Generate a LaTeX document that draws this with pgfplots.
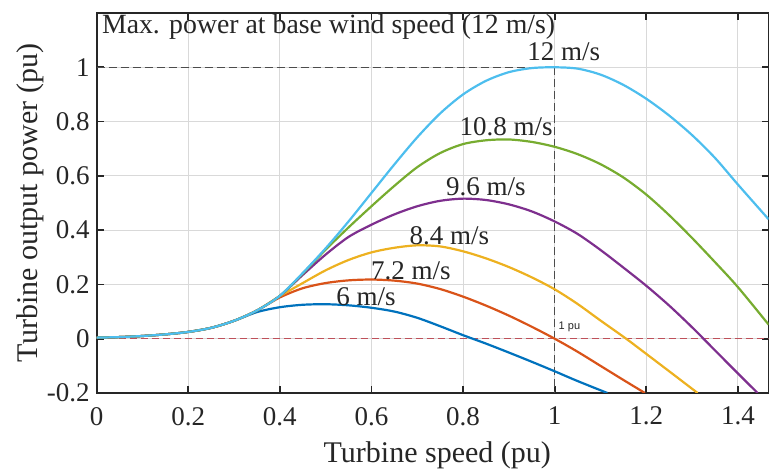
\documentclass[border=0pt]{standalone}
\usepackage{fontspec}
\setmainfont{Liberation Serif}
\setsansfont{Liberation Sans}
\usepackage{pgfplots}
\pgfplotsset{compat=1.18}

\definecolor{c6}{rgb}{0,0.447,0.741}
\definecolor{c72}{rgb}{0.85,0.325,0.098}
\definecolor{c84}{rgb}{0.929,0.694,0.125}
\definecolor{c96}{rgb}{0.494,0.184,0.556}
\definecolor{c108}{rgb}{0.466,0.674,0.188}
\definecolor{c12}{rgb}{0.301,0.745,0.933}
\definecolor{zeroline}{RGB}{190,80,90}
\definecolor{txt}{RGB}{38,38,38}

\begin{document}
\begin{tikzpicture}
% fixed frame: 769x470 px at 0.5pt per px
\path[use as bounding box] (-48.3pt,-38pt) rectangle (336.2pt,196.5pt);
\begin{axis}[
  name=ax,
  at={(0,0)}, anchor=south west,
  scale only axis,
  width=336pt, height=190pt,
  xmin=0, xmax=1.467, ymin=-0.2, ymax=1.2,
  xtick={0,0.2,0.4,0.6,0.8,1,1.2,1.4},
  ytick={-0.2,0,0.2,0.4,0.6,0.8,1},
  grid=major,
  major grid style={black!15, line width=0.5pt},
  axis line style={line width=1pt, txt},
  tick style={txt, line width=0.9pt},
  tick align=inside,
  major tick length=3.5pt,
  /pgf/number format/assume math mode=true,
  xticklabel={\pgfmathprintnumber{\tick}},
  yticklabel={\pgfmathprintnumber{\tick}},
  ticklabel style={font=\rmfamily\fontsize{13.5}{14}\selectfont, text=txt},
  xticklabel style={yshift=-3.5pt},
  every axis x label/.style={at={(axis description cs:0.507,0)}, anchor=center, yshift=-31pt},
  every axis y label/.style={at={(axis description cs:0,0.5)}, xshift=-33pt, anchor=center, rotate=90},
  label style={font=\fontsize{15}{16}\selectfont, text=txt},
  xlabel={Turbine speed (pu)},
  ylabel={Turbine output power (pu)},
  every axis plot/.append style={line width=1.1pt, smooth},
]
% reference lines
\addplot[black!70, line width=0.75pt, dash pattern=on 4pt off 2pt, sharp plot] coordinates {(0,1) (1,1)};
\addplot[black!70, line width=0.75pt, dash pattern=on 4pt off 2pt, sharp plot] coordinates {(1,1) (1,-0.2)};
\addplot[zeroline, line width=0.75pt, dash pattern=on 3.5pt off 2pt, sharp plot] coordinates {(0,0) (1.467,0)};

% 6 m/s
\addplot[c6] coordinates {
  (0,0.004) (0.05,0.006) (0.1,0.01) (0.15,0.016) (0.2,0.025) (0.25,0.04) (0.3,0.066)
  (0.35,0.098) (0.4,0.116) (0.45,0.125) (0.5,0.127) (0.55,0.123) (0.6,0.114)
  (0.65,0.1) (0.7,0.077) (0.75,0.046) (0.8,0.013) (0.85,-0.018) (0.9,-0.051)
  (0.95,-0.085) (1.0,-0.12) (1.05,-0.156) (1.115,-0.2)
};
% 7.2 m/s
\addplot[c72] coordinates {
  (0,0.004) (0.05,0.006) (0.1,0.01) (0.15,0.016) (0.2,0.025) (0.25,0.04) (0.3,0.066)
  (0.35,0.104) (0.4,0.152) (0.45,0.186) (0.5,0.205) (0.55,0.215) (0.6,0.218)
  (0.65,0.214) (0.7,0.203) (0.75,0.183) (0.8,0.155) (0.85,0.122) (0.9,0.085)
  (0.95,0.044) (1.0,0) (1.05,-0.048) (1.1,-0.1) (1.15,-0.152) (1.197,-0.2)
};
% 8.4 m/s
\addplot[c84] coordinates {
  (0,0.004) (0.05,0.006) (0.1,0.01) (0.15,0.016) (0.2,0.025) (0.25,0.04) (0.3,0.066)
  (0.35,0.104) (0.4,0.157) (0.45,0.205) (0.5,0.252) (0.55,0.29) (0.6,0.318)
  (0.65,0.335) (0.7,0.344) (0.75,0.34) (0.8,0.322) (0.85,0.296) (0.9,0.264)
  (0.95,0.226) (1.0,0.182) (1.05,0.128) (1.1,0.067) (1.156,0) (1.2,-0.056)
  (1.25,-0.12) (1.312,-0.2)
};
% 9.6 m/s
\addplot[c96] coordinates {
  (0,0.004) (0.05,0.006) (0.1,0.01) (0.15,0.016) (0.2,0.025) (0.25,0.04) (0.3,0.066)
  (0.35,0.104) (0.4,0.158) (0.45,0.235) (0.5,0.31) (0.55,0.375) (0.6,0.42)
  (0.65,0.458) (0.7,0.488) (0.75,0.508) (0.8,0.516) (0.85,0.511) (0.9,0.495)
  (0.95,0.469) (1.0,0.432) (1.05,0.386) (1.1,0.327) (1.15,0.262) (1.2,0.195)
  (1.25,0.122) (1.3,0.042) (1.35,-0.043) (1.4,-0.128) (1.443,-0.2)
};
% 10.8 m/s
\addplot[c108] coordinates {
  (0,0.004) (0.05,0.006) (0.1,0.01) (0.15,0.016) (0.2,0.025) (0.25,0.04) (0.3,0.066)
  (0.35,0.104) (0.4,0.158) (0.45,0.24) (0.5,0.328) (0.55,0.41) (0.6,0.488)
  (0.65,0.563) (0.7,0.632) (0.75,0.684) (0.8,0.717) (0.85,0.731) (0.9,0.734)
  (0.95,0.725) (1.0,0.707) (1.05,0.68) (1.1,0.643) (1.15,0.594) (1.2,0.531)
  (1.25,0.455) (1.3,0.371) (1.35,0.282) (1.4,0.19) (1.467,0.052)
};
% 12 m/s
\addplot[c12] coordinates {
  (0,0.004) (0.05,0.006) (0.1,0.01) (0.15,0.016) (0.2,0.025) (0.25,0.04) (0.3,0.066)
  (0.35,0.104) (0.4,0.158) (0.45,0.242) (0.5,0.333) (0.55,0.432) (0.6,0.537)
  (0.65,0.642) (0.7,0.742) (0.75,0.83) (0.8,0.9) (0.85,0.95) (0.9,0.982)
  (0.95,0.997) (1.0,1.0) (1.05,0.995) (1.1,0.973) (1.15,0.935) (1.2,0.884)
  (1.25,0.822) (1.3,0.75) (1.35,0.666) (1.4,0.568) (1.467,0.44)
};

\begin{scope}[every node/.style={font=\fontsize{13.5}{14}\selectfont, text=txt, inner sep=0pt}]
\node[anchor=west, font=\fontsize{13.9}{14}\selectfont] at (axis cs:0.011,1.149) {Max. power at base wind speed (12 m/s)};
\node at (axis cs:1.02,1.057) {12 m/s};
\node at (axis cs:0.894,0.781) {10.8 m/s};
\node at (axis cs:0.85,0.56) {9.6 m/s};
\node at (axis cs:0.77,0.38) {8.4 m/s};
\node at (axis cs:0.686,0.25) {7.2 m/s};
\node at (axis cs:0.588,0.155) {6 m/s};
\node[anchor=west, font=\sffamily\fontsize{5.5}{6}\selectfont] at (axis cs:1.008,0.044) {1 pu};
\end{scope}
\end{axis}
\end{tikzpicture}
\end{document}
